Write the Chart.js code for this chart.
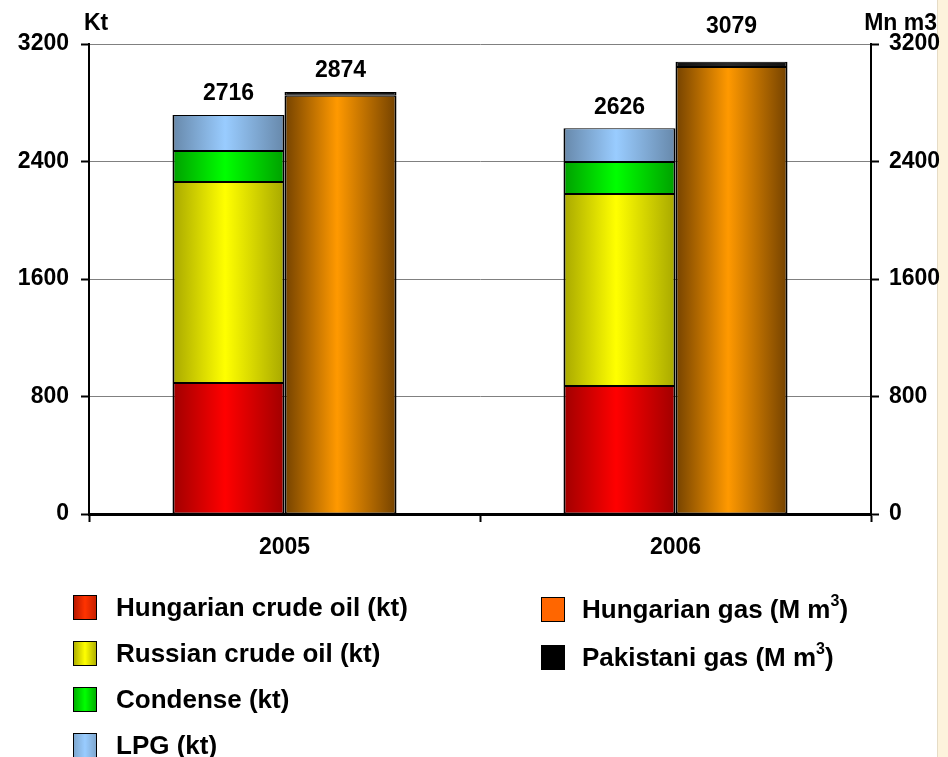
<!DOCTYPE html>
<html>
<head>
<meta charset="utf-8">
<title>Production</title>
<script src="https://cdn.jsdelivr.net/npm/chart.js"></script>
<style>
  body { margin: 0; background: #fff; font-family: "Liberation Sans", Arial, sans-serif; }
  #wrap { position: relative; width: 948px; height: 757px; overflow: hidden; }
  #strip { position: absolute; left: 937px; top: 0; width: 11px; height: 757px;
           background: #fdf3dc; border-left: 1px solid #e6dcc6; box-sizing: border-box; }
  canvas { position: absolute; left: 0; top: 0; }
  .legend { position: absolute; font-weight: bold; font-size: 26px; color: #000; }
  .item { display: flex; align-items: center; height: 46px; white-space: nowrap; }
  .sw { width: 22px; height: 23px; border: 1.5px solid #000; margin-right: 19px; flex: none; }
  sup { font-size: 16px; vertical-align: 0; position: relative; top: -8px; }
</style>
</head>
<body>
<div id="wrap">
  <div id="strip"></div>
  <canvas id="prodChart" width="948" height="757"></canvas>
  <div class="legend" style="left:73px; top:584px;">
    <div class="item"><span class="sw" style="background:linear-gradient(90deg,#b81800,#ff3300 50%,#c82000)"></span>Hungarian crude oil (kt)</div>
    <div class="item"><span class="sw" style="background:linear-gradient(90deg,#b0b000,#ffff00 50%,#b0b000)"></span>Russian crude oil (kt)</div>
    <div class="item"><span class="sw" style="background:linear-gradient(90deg,#00b000,#00ff00 50%,#00b000)"></span>Condense (kt)</div>
    <div class="item"><span class="sw" style="background:linear-gradient(90deg,#7fa8d0,#99ccff 50%,#7fa8d0)"></span>LPG (kt)</div>
  </div>
  <div class="legend" style="left:541px; top:585px;">
    <div class="item" style="height:48px"><span class="sw" style="background:#ff6600; margin-right:17px"></span>Hungarian gas (M m<sup>3</sup>)</div>
    <div class="item" style="height:48px"><span class="sw" style="background:#000; margin-right:17px"></span>Pakistani gas (M m<sup>3</sup>)</div>
  </div>
</div>
<script>
// production volumes per year
const labels = ['2005', '2006'];
const hungarianCrude = [892, 871];
const russianCrude = [1368, 1307];
const condense = [211, 218];
const lpg = [245, 230];
const hungarianGas = [2848, 3043];
const pakistaniGas = [26, 36];
const yTicks = [0, 800, 1600, 2400, 3200];

const CAT_PCT = 0.573;
const FONT = '"Liberation Sans", Arial, sans-serif';

// horizontal "cylinder" shading for each bar
function barGradient(edge, mid) {
  return function (c) {
    const chart = c.chart;
    const x = chart.scales.x;
    if (!x || c.dataIndex === undefined || !chart.chartArea) return mid;
    const w = (x.width / labels.length) * CAT_PCT / 2;
    const center = x.getPixelForValue(c.dataIndex);
    const left = c.dataset.stack === 'kt' ? center - w : center;
    const g = chart.ctx.createLinearGradient(left, 0, left + w, 0);
    g.addColorStop(0, edge);
    g.addColorStop(0.47, mid);
    g.addColorStop(1, edge);
    return g;
  };
}

function ds(label, data, stack, axis, edge, mid) {
  return {
    label: label,
    data: data,
    stack: stack,
    yAxisID: axis,
    backgroundColor: barGradient(edge, mid),
    borderColor: '#000',
    borderWidth: { top: 1, bottom: 1, left: 2, right: 2 },
    borderSkipped: false
  };
}

// totals above the stacks + axis unit titles
const totalsPlugin = {
  id: 'totals',
  afterDatasetsDraw(chart) {
    const ctx = chart.ctx;
    const area = chart.chartArea;
    ctx.save();
    ctx.font = 'bold 23px ' + FONT;
    ctx.fillStyle = '#000';
    ctx.textAlign = 'center';
    ctx.textBaseline = 'middle';
    [[0, 1, 2, 3], [4, 5]].forEach(idx => {
      const topMeta = chart.getDatasetMeta(idx[idx.length - 1]);
      labels.forEach((l, i) => {
        const total = idx.reduce((s, d) => s + chart.data.datasets[d].data[i], 0);
        const el = topMeta.data[i];
        let y = el.y - 21;
        if (y > area.top - 25 && y < area.top + 12) y = area.top - 17;
        ctx.fillText(String(total), el.x, y);
      });
    });
    ctx.textBaseline = 'alphabetic';
    ctx.textAlign = 'left';
    ctx.fillText('Kt', area.left - 5, 30);
    ctx.textAlign = 'right';
    ctx.fillText('Mn m3', chart.width - 11, 30);
    ctx.restore();
  }
};

const tickFont = { family: FONT, size: 23, weight: 'bold' };
const plain = v => String(v);

const config = {
  type: 'bar',
  data: {
    labels: labels,
    datasets: [
      ds('Hungarian crude oil (kt)', hungarianCrude, 'kt', 'y', '#a00000', '#ff0000'),
      ds('Russian crude oil (kt)', russianCrude, 'kt', 'y', '#a8a800', '#ffff00'),
      ds('Condense (kt)', condense, 'kt', 'y', '#00a000', '#00ff00'),
      ds('LPG (kt)', lpg, 'kt', 'y', '#6788aa', '#99ccff'),
      ds('Hungarian gas (M m3)', hungarianGas, 'gas', 'y2', '#744200', '#ff9900'),
      ds('Pakistani gas (M m3)', pakistaniGas, 'gas', 'y2', '#111111', '#2a2a2a')
    ]
  },
  options: {
    responsive: false,
    animation: false,
    devicePixelRatio: 1,
    barPercentage: 1,
    categoryPercentage: CAT_PCT,
    layout: { padding: { top: 44, bottom: 193, left: 0, right: 0 } },
    plugins: {
      legend: { display: false },
      tooltip: { enabled: false }
    },
    scales: {
      x: {
        stacked: true,
        grid: { offset: true, drawOnChartArea: false, tickLength: 8, tickColor: '#000', tickWidth: 2 },
        border: { color: '#000', width: 3 },
        ticks: { font: tickFont, color: '#000', padding: 12 },
        afterFit: s => { s.height = 50; }
      },
      y: {
        stacked: true,
        position: 'left',
        min: yTicks[0],
        max: yTicks[yTicks.length - 1],
        ticks: { stepSize: yTicks[1] - yTicks[0], font: tickFont, color: '#000', padding: 12, callback: plain },
        grid: { color: '#808080', lineWidth: 1, tickLength: 8, tickColor: '#000', tickWidth: 2 },
        border: { color: '#000', width: 2 },
        afterFit: s => { s.width = 89; }
      },
      y2: {
        stacked: true,
        position: 'right',
        min: yTicks[0],
        max: yTicks[yTicks.length - 1],
        ticks: { stepSize: yTicks[1] - yTicks[0], font: tickFont, color: '#000', padding: 10, callback: plain },
        grid: { drawOnChartArea: false, tickLength: 8, tickColor: '#000', tickWidth: 2 },
        border: { color: '#000', width: 2 },
        afterFit: s => { s.width = 77; }
      }
    }
  },
  plugins: [totalsPlugin]
};

document.addEventListener('DOMContentLoaded', () => {
  new Chart(document.getElementById('prodChart').getContext('2d'), config);
});
</script>
</body>
</html>
